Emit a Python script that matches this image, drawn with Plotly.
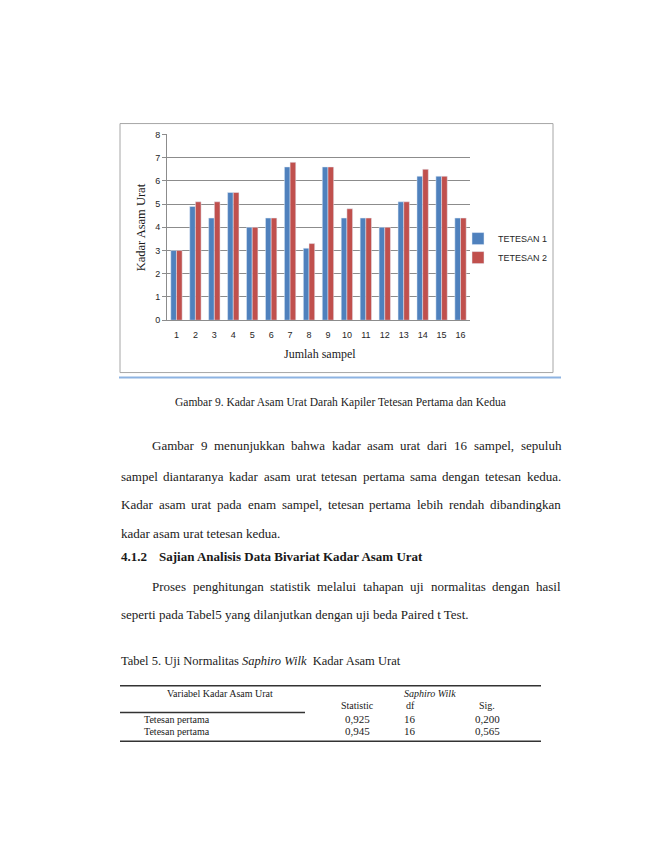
"""Kadar asam urat page: grouped bar chart plus the surrounding report text."""

import plotly.graph_objects as go

W, H = 650, 841

# chart data
sampel = ["1", "2", "3", "4", "5", "6", "7", "8", "9", "10", "11", "12", "13", "14", "15", "16"]
tetesan_1 = [3.0, 4.9, 4.4, 5.5, 4.0, 4.4, 6.6, 3.1, 6.6, 4.4, 4.4, 4.0, 5.1, 6.2, 6.2, 4.4]
tetesan_2 = [3.0, 5.1, 5.1, 5.5, 4.0, 4.4, 6.8, 3.3, 6.6, 4.8, 4.4, 4.0, 5.1, 6.5, 6.2, 4.4]
y_ticks = [0, 1, 2, 3, 4, 5, 6, 7, 8]

# normality table
tabel_header = ["Statistic", "df", "Sig."]
tabel_rows = ["Tetesan pertama", "Tetesan pertama"]
tabel_statistic = ["0,925", "0,945"]
tabel_df = ["16", "16"]
tabel_sig = ["0,200", "0,565"]

BLUE = "#4f81bd"
RED = "#c0504d"
GRID = "#8c8c8c"
SERIF = "Liberation Serif"
SANS = "Liberation Sans"
INK = "#1a1a1a"

# Times / Liberation Serif advance widths (per 1000 em), used to justify lines
_TNR = dict(zip("abcdefghijklmnopqrstuvwxyz",
                [444, 500, 444, 500, 444, 333, 500, 500, 278, 278, 500, 278, 778,
                 500, 500, 500, 500, 333, 389, 278, 500, 500, 722, 500, 500, 444]))
_TNR.update(zip("ABCDEFGHIJKLMNOPQRSTUVWXYZ",
                [722, 667, 667, 722, 611, 556, 722, 722, 333, 389, 722, 611, 889,
                 722, 722, 556, 722, 667, 556, 611, 722, 722, 944, 722, 722, 611]))
_TNR.update({c: 500 for c in "0123456789"})
_TNR.update({".": 250, ",": 250, " ": 250})


def px(x):
    return x / W


def py(y):
    return 1 - y / H


def text_w(s, size):
    return sum(_TNR.get(c, 500) for c in s) * size / 1000


annotations = []
shapes = []


def note(text, x, y, size, anchor="left", family=SERIF, angle=0, color=INK):
    annotations.append(dict(
        text=text, x=px(x), y=py(y), xref="paper", yref="paper",
        xanchor=anchor, yanchor="middle", showarrow=False, textangle=angle,
        borderpad=0, font=dict(family=family, size=size, color=color),
    ))


def justify(line, x0, x1, y, size=13):
    words = line.split()
    widths = [text_w(w, size) for w in words]
    gap = (x1 - x0 - sum(widths)) / (len(words) - 1)
    x = x0
    for w, wd in zip(words, widths):
        note(w, x, y, size)
        x += wd + gap


def hline(x0, x1, y, color="#333333", width=1):
    shapes.append(dict(type="line", xref="paper", yref="paper",
                       x0=px(x0), x1=px(x1), y0=py(y), y1=py(y),
                       line=dict(color=color, width=width)))


fig = go.Figure()
fig.add_trace(go.Bar(x=sampel, y=tetesan_1, name="TETESAN 1", marker_color=BLUE))
fig.add_trace(go.Bar(x=sampel, y=tetesan_2, name="TETESAN 2", marker_color=RED))

# chart frame and the blue rule below it
shapes.append(dict(type="rect", xref="paper", yref="paper",
                   x0=px(120), x1=px(553), y0=py(372), y1=py(120),
                   line=dict(color="#a6a6a6", width=1)))
hline(119, 561, 377, color="#8db3e2", width=2)

note("Kadar Asam Urat", 141, 225, 12.5, anchor="center", angle=-90)
note("Jumlah sampel", 320, 353, 12, anchor="center")
note("Gambar 9. Kadar Asam Urat Darah Kapiler Tetesan Pertama dan Kedua", 340, 402, 11.5,
     anchor="center")

# body text
justify("Gambar 9 menunjukkan bahwa kadar asam urat dari 16 sampel, sepuluh", 151, 560, 446)
justify("sampel diantaranya kadar asam urat tetesan pertama sama dengan tetesan kedua.",
        120, 560, 477)
justify("Kadar asam urat pada enam sampel, tetesan pertama lebih rendah dibandingkan",
        120, 560, 506)
note("kadar asam urat tetesan kedua.", 120, 535, 13)
note("<b>4.1.2</b>", 120, 558, 13)
note("<b>Sajian Analisis Data Bivariat Kadar Asam Urat</b>", 158, 558, 13)
justify("Proses penghitungan statistik melalui tahapan uji normalitas dengan hasil",
        151, 560, 588)
note("seperti pada Tabel5 yang dilanjutkan dengan uji beda Paired t Test.", 120, 617, 13)
note("Tabel 5. Uji Normalitas <i>Saphiro Wilk</i>  Kadar Asam Urat", 120, 664, 12.5)

# table
hline(120, 541, 689, width=1.5)
hline(120, 305, 716, width=1.5)
hline(120, 541, 745, width=1.5)
note("Variabel Kadar Asam Urat", 220, 697, 10, anchor="center")
note("<i>Saphiro Wilk</i>", 430, 697, 10, anchor="center")
col_x = [357, 410, 487]
for cx, head in zip(col_x, tabel_header):
    note(head, cx, 709, 10, anchor="center")
for i, (lab, st, d, sg) in enumerate(zip(tabel_rows, tabel_statistic, tabel_df, tabel_sig)):
    ry = 723 + i * 12
    note(lab, 143, ry, 10)
    for cx, val in zip(col_x, [st, d, sg]):
        note(val, cx, ry, 11, anchor="center")

fig.update_layout(
    width=W, height=H, autosize=False,
    margin=dict(l=0, r=0, t=0, b=0),
    paper_bgcolor="white", plot_bgcolor="white",
    barmode="group", bargap=0.4, bargroupgap=0,
    showlegend=True,
    legend=dict(x=px(458), y=py(246), xanchor="left", yanchor="middle",
                font=dict(family=SANS, size=9, color="#262626"),
                bgcolor="rgba(0,0,0,0)", itemwidth=30, tracegroupgap=0),
    annotations=annotations,
    shapes=shapes,
)
fig.update_xaxes(
    domain=[px(167), px(470)], type="category",
    showgrid=False, showline=True, linecolor=GRID, linewidth=1,
    ticks="", ticklabelstandoff=6,
    tickfont=dict(family=SANS, size=9, color="#262626"),
)
fig.update_yaxes(
    domain=[py(319), py(131)], range=[0, 8], tickvals=y_ticks,
    showgrid=True, gridcolor=GRID, gridwidth=1, zeroline=False,
    showline=True, linecolor=GRID, linewidth=1,
    ticks="outside", ticklen=4, tickcolor=GRID,
    tickfont=dict(family=SANS, size=9, color="#262626"),
)

fig.write_html("out.html", config={"displayModeBar": False},
               post_script="document.body.style.margin='0';"
               "document.body.style.overflow='hidden';")
